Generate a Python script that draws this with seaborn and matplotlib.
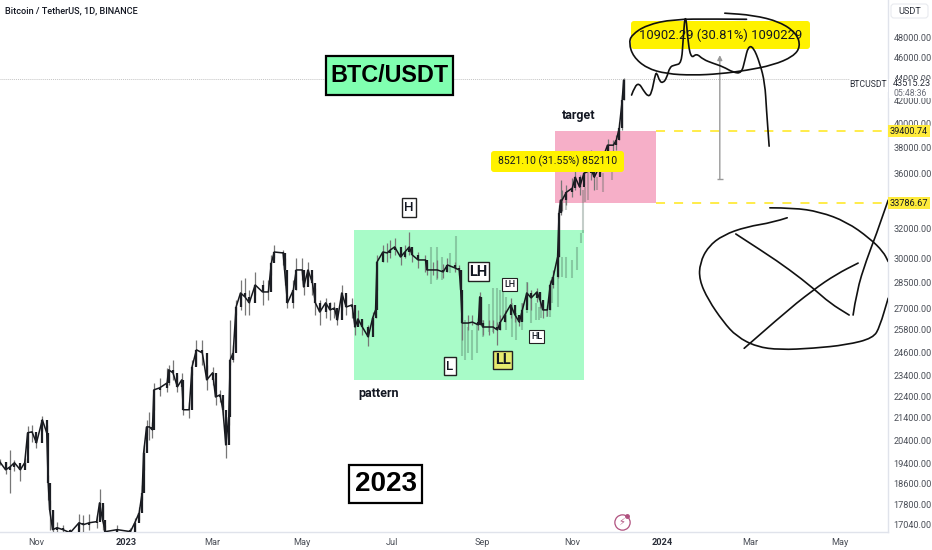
import pandas as pd
import matplotlib
matplotlib.use("Agg")
import matplotlib.pyplot as plt
from matplotlib.patches import FancyBboxPatch, PathPatch, Rectangle
from matplotlib.path import Path
from matplotlib.ticker import NullFormatter
from matplotlib.transforms import IdentityTransform
import seaborn as sns

# candles, x is days since 2023-01-01
candle_day = [-86, -82, -79, -76, -72, -69, -67, -64, -61, -57, -54, -53, -52, -50, -47, -43, -38, -32, -29, -25,
              -20, -18, -16, -14, -6, 3, 6, 9, 11, 12, 14, 16, 18, 19, 23, 28, 29, 32, 35, 38,
              39, 43, 45, 48, 52, 55, 59, 61, 64, 66, 68, 70, 71, 73, 75, 78, 81, 84, 88, 93,
              97, 99, 101, 107, 108, 110, 114, 116, 120, 121, 124, 127, 129, 132, 136, 139, 142, 144, 147, 150,
              154, 156, 158, 161, 165, 168, 170, 171, 175, 178, 180, 183, 187, 190, 193, 195, 199, 204, 205, 209,
              212, 216, 219, 224, 227, 228, 229, 233, 236, 240, 241, 242, 243, 247, 250, 253, 255, 258, 262, 265,
              268, 270, 273, 276, 280, 282, 284, 287, 289, 291, 294, 295, 296, 297, 300, 304, 306, 309, 312, 317,
              319, 323, 328, 332, 334, 336, 338, 339]
candle_close = [19480, 19150, 19270, 19440, 19150, 19440, 20720, 20760, 20280, 21300, 20720, 18630, 17590, 16860, 16930, 16860, 16750, 17110, 17040, 17110,
                17150, 17850, 17220, 16790, 16860, 16790, 17110, 17480, 18240, 19850, 20980, 20980, 20850, 22700, 22800, 23040, 23690, 23540, 22850, 23190,
                21760, 21760, 23840, 24720, 24560, 23190, 23540, 22360, 22460, 21760, 20190, 21440, 24200, 24560, 27080, 27900, 27670, 27320, 28380, 27960,
                27960, 29740, 30440, 30380, 29300, 27320, 28080, 29300, 29300, 28260, 29300, 28500, 27320, 26790, 27320, 26910, 27020, 26340, 27900, 27080,
                27200, 25950, 26400, 25950, 25410, 26450, 26910, 29800, 30440, 30380, 30570, 30770, 30120, 30440, 30770, 30250, 29930, 29930, 29300, 29300,
                29300, 29180, 29610, 29430, 29300, 28080, 26170, 26170, 26220, 26070, 27670, 26170, 25950, 25950, 25950, 25790, 26220, 26620, 27200, 26620,
                26220, 26910, 27900, 27610, 27960, 27490, 26910, 26910, 28380, 28860, 30120, 33070, 33990, 33990, 34570, 34870, 35690, 34950, 36000, 36230,
                35690, 36620, 38210, 38210, 38620, 39620, 42060, 43890]
candle_high = [19600, 19480, 19980, 19560, 19350, 19640, 21020, 21060, 20590, 21490, 21060, 18950, 17970, 17590, 17150, 17040, 16900, 17440, 17400, 17440,
               17400, 18390, 17780, 17040, 17040, 16930, 17290, 17700, 18550, 20190, 21300, 21660, 21210, 23040, 23290, 23790, 23940, 24200, 23440, 23540,
               21990, 22120, 24200, 25250, 25250, 23940, 23840, 22600, 22700, 21990, 20630, 22220, 26340, 24980, 27490, 28680, 28800, 28080, 29180, 28680,
               28680, 30250, 30900, 30570, 30060, 27780, 28680, 30060, 30060, 28990, 29800, 28990, 28200, 27490, 27610, 27370, 27370, 26790, 28380, 27780,
               27610, 26450, 26910, 26340, 26070, 26790, 27320, 30250, 30900, 31010, 31220, 31360, 30570, 30900, 31750, 30570, 30440, 30250, 29800, 29800,
               29930, 29670, 30060, 29800, 29610, 29300, 27490, 26620, 26620, 26450, 27960, 27670, 26340, 26340, 26340, 26220, 26620, 26910, 27610, 27200,
               26620, 27320, 28560, 28080, 28200, 27960, 27490, 27200, 28680, 29300, 30570, 33640, 35470, 34720, 35090, 35620, 36620, 35850, 37010, 37810,
               36620, 37640, 38700, 38620, 39030, 40130, 42510, 44070]
candle_low = [19350, 18990, 18240, 19110, 18710, 19310, 20070, 20320, 20070, 20810, 20540, 17970, 16860, 16680, 16750, 16680, 16610, 16860, 16790, 16860,
              16930, 17590, 16860, 16500, 16680, 16650, 16790, 17220, 17970, 19150, 20630, 20410, 20500, 21760, 22410, 22600, 22940, 23190, 22600, 22700,
              21530, 21390, 23440, 23940, 23940, 22700, 22940, 21990, 22120, 21530, 19640, 21060, 23940, 24100, 26620, 26910, 26620, 26620, 27780, 27200,
              27490, 28990, 30060, 29610, 28380, 27020, 27020, 28080, 28680, 27780, 28560, 27780, 26620, 26040, 26450, 26340, 26450, 26040, 26910, 26620,
              26450, 25520, 26070, 25520, 24930, 26070, 26450, 28080, 29800, 29800, 30060, 30250, 29610, 30060, 30250, 29800, 29430, 29180, 28990, 28990,
              28800, 28800, 29180, 29180, 28990, 27490, 25250, 25790, 26040, 25790, 26070, 26040, 25520, 25520, 25630, 24980, 25790, 26220, 26450, 26220,
              26000, 26340, 27200, 26910, 27370, 27020, 26450, 26560, 26910, 28200, 28800, 30120, 32930, 33210, 33640, 34200, 34720, 34360, 35090, 35470,
              34720, 35850, 37010, 36150, 37810, 38620, 39450, 42060]

# faded projection bars
ghost_day = [208, 212, 215, 221, 225, 229, 231, 233, 236, 239, 243, 247, 250, 253, 255, 257, 259, 263, 266, 270,
             273, 276, 279, 281, 283, 287, 289, 290, 294, 297, 300, 304, 307, 310, 311, 300, 313, 315, 321, 325, 331]
ghost_high = [30770, 30770, 30120, 30380, 31500, 26450, 26340, 25950, 25790, 26170, 26340, 27260, 28200, 28200, 28080, 28080, 27670, 27320, 26730, 27320,
              28560, 27900, 27320, 27080, 27080, 26910, 27320, 28860, 30380, 30120, 30120, 29930, 30770, 31680, 34720, 33990, 34950, 36000, 35690, 36000, 37010]
ghost_low = [28440, 28680, 28680, 29120, 29300, 24410, 24200, 24560, 24200, 24560, 25410, 25680, 25680, 25950, 26170, 26510, 25790, 25410, 25250, 25790,
             26730, 26170, 26340, 26340, 26450, 26510, 26510, 27320, 27080, 28860, 28800, 28800, 29300, 31010, 31680, 33280, 33850, 33990, 34720, 34570, 35470]

# hand drawn strokes, day then price
wave_day = [344.4, 346.6, 349.6, 352.3, 355.7, 358, 360.2, 361.4, 363.6, 365.9, 368.2, 370.5, 373.9, 378.4, 379.5, 381.1, 383, 385.2, 388.6, 393.1, 399.9, 406.8, 413.6, 419.3, 421.6, 423.8, 427.2, 431.8, 435.2, 436.3, 438.1]
wave_price = [42510, 43330, 43580, 42960, 42360, 42660, 44200, 44670, 43730, 43640, 44050, 45150, 45310, 45480, 47800, 50900, 47260, 45960, 46450, 45860, 45480, 45150, 44610, 44520, 45800, 47120, 47120, 45480, 43600, 41170, 38130]
ring_day = [422.7, 399.9, 372.7, 354.6, 344.4, 342.6, 345.5, 354.6, 368.2, 386.3, 404.5, 422.7, 440.8, 454.4, 459.5, 456.7, 445.4, 427.2, 407.9]
ring_price = [49950, 49980, 49950, 49340, 48310, 47460, 46130, 45010, 44470, 44340, 44470, 44800, 45310, 46130, 47120, 48480, 49680, 50390, 50600]
loop_left_day = [450.4, 440.9, 422.7, 406.8, 396.6, 390.9, 390.5, 396.6, 406.8, 415.9, 429.5, 445.4, 468.1, 490.8, 509, 513.5, 519.2]
loop_left_price = [32740, 32420, 32120, 31560, 30790, 29730, 28680, 27490, 26240, 25430, 24880, 24720, 24800, 24980, 25340, 25970, 27590]
loop_top_day = [438.6, 454.5, 472.6, 490.8, 506.7, 515.8, 519.2]
loop_top_price = [33440, 33440, 33160, 32460, 31330, 30460, 29830]
cross_a_day = [415.4, 434.1, 452.2, 468.1, 479.5, 492.6]
cross_a_price = [31630, 30460, 29300, 28180, 27300, 26620]
cross_b_day = [421.1, 445.4, 468.1, 484, 498.7]
cross_b_price = [24800, 26510, 28080, 29040, 29730]
rise_day = [495.3, 497.6, 504.4, 511.2, 519.2]
rise_price = [26620, 27960, 29930, 31620, 33990]

strokes = [(wave_day, wave_price), (ring_day, ring_price), (loop_left_day, loop_left_price),
           (loop_top_day, loop_top_price), (cross_a_day, cross_a_price), (cross_b_day, cross_b_price),
           (rise_day, rise_price)]

# zones and levels
pattern_days = [155.3, 311.9]
pattern_low, pattern_high = 23190, 31890
target_days = [292.1, 360.9]
target_low, target_high = 33786.67, 39400.74
last_price_line = 43950
arrow_day, arrow_low, arrow_high = 404.5, 35540, 46280

# axis labels
price_ticks = [48000, 46000, 44000, 42000, 40000, 38000, 36000, 32000, 30000, 28500, 27000, 25800, 24600, 23400,
               22400, 21400, 20400, 19400, 18600, 17800, 17040]
date_ticks = ["2022-11-01", "2023-01-01", "2023-03-01", "2023-05-01", "2023-07-01", "2023-09-01", "2023-11-01",
              "2024-01-01", "2024-03-01", "2024-05-01"]
date_labels = ["Nov", "2023", "Mar", "May", "Jul", "Sep", "Nov", "2024", "Mar", "May"]

W, H = 932, 550
sns.set_theme(style="white")
plt.rcParams["font.family"] = ["Roboto", "DejaVu Sans"]

fig = plt.figure(figsize=(W / 100, H / 100), dpi=100)
ax = fig.add_axes([0, 18 / H, 888 / W, 532 / H])
ax.set_yscale("log")
ax.set_xlim(-85.83, 519.07)
ax.set_ylim(16776, 52040)

ax.fill_between(pattern_days, pattern_low, pattern_high, color="#A8FBC8", lw=0, zorder=1)
ax.fill_between(target_days, target_low, target_high, color="#F6AFC8", lw=0, zorder=1)
ax.hlines([target_low, target_high], target_days[1], 519, color="#FFEB3B", lw=1.3,
          linestyles=(0, (5, 5)), zorder=1)
ax.axhline(last_price_line, color="#c4c4c4", lw=0.7, ls=(0, (1, 1)), zorder=1)

ax.vlines(ghost_day, ghost_low, ghost_high, color="#3d5a4c", alpha=0.3, lw=1.5, zorder=2)
ax.vlines(candle_day, candle_low, candle_high, color="#777777", lw=0.9, zorder=3)
sns.lineplot(x=candle_day, y=candle_close, color="#16181d", lw=1.1, estimator=None, sort=False, ax=ax, zorder=4)
ax.vlines(candle_day[1:], candle_close[:-1], candle_close[1:], color="#1c1e24", lw=1.6, zorder=4)

ax.annotate("", xy=(arrow_day, arrow_high), xytext=(arrow_day, arrow_low),
            arrowprops=dict(arrowstyle="-|>", color="#9a9a9a", lw=1, shrinkA=0, shrinkB=0, mutation_scale=7), zorder=5)
ax.plot([arrow_day], [arrow_low], marker="_", ms=5, color="#9a9a9a", zorder=5)

ax.yaxis.tick_right()
ax.set_yticks(price_ticks)
ax.set_yticklabels([f"{p}.00" for p in price_ticks], fontsize=6.6, color="#4a4e57")
ax.yaxis.set_minor_formatter(NullFormatter())
ax.yaxis.set_minor_locator(plt.NullLocator())
base = pd.Timestamp("2023-01-01")
ax.set_xticks([(pd.Timestamp(d) - base).days for d in date_ticks])
ax.set_xticklabels(date_labels, fontsize=6.6, color="#4a4e57")
for tick in ax.get_xticklabels():
    if tick.get_text() in ("2023", "2024"):
        tick.set_fontweight("bold")
        tick.set_color("#2a2e39")
ax.tick_params(axis="both", length=0, pad=4)
sns.despine(ax=ax, top=True, left=True, right=False, bottom=False)
for side in ("right", "bottom"):
    ax.spines[side].set_color("#e0e3eb")
    ax.spines[side].set_linewidth(1)


def note(x, y, text, size=8, weight="normal", color="#131722", family=None, ha="center"):
    # overlay text placed in figure pixels
    kw = {"family": family} if family else {}
    fig.text(x / W, 1 - y / H, text, fontsize=size, fontweight=weight, color=color, ha=ha, va="center",
             zorder=8, **kw)


def plate(x0, y0, x1, y1, face="white", edge="#222222", lw=1.0, round_px=0):
    # box behind a note, corners given in figure pixels
    style = f"round,pad=0,rounding_size={round_px}" if round_px else "square,pad=0"
    fig.add_artist(FancyBboxPatch((x0, H - y1), x1 - x0, y1 - y0, boxstyle=style, transform=IdentityTransform(),
                                  fc=face, ec=edge, lw=lw, zorder=7.5))


def boxed(x0, y0, x1, y1, text, size, weight="bold", face="white", edge="#222222", lw=1.0, family=None, color="#131722"):
    plate(x0, y0, x1, y1, face, edge, lw)
    note((x0 + x1) / 2, (y0 + y1) / 2, text, size, weight, color, family)


def smooth_stroke(target, day, price):
    # control polygon from the read values, drawn as a curve the way a pen would go
    pts = list(zip(day, price))
    verts = [pts[0]]
    codes = [Path.MOVETO]
    for i in range(1, len(pts) - 1):
        mid = ((pts[i][0] + pts[i + 1][0]) / 2, (pts[i][1] + pts[i + 1][1]) / 2)
        verts += [pts[i], mid]
        codes += [Path.CURVE3, Path.CURVE3]
    verts.append(pts[-1])
    codes.append(Path.LINETO)
    target.add_patch(PathPatch(Path(verts, codes), fc="none", ec="#111111", lw=1.2, capstyle="round"))


plate(491, 151, 624, 172, "#FFF200", "none", 0, round_px=3)
note(557.5, 161.5, "8521.10 (31.55%) 852110", 7.5)
plate(631, 21, 810, 49, "#FFF200", "none", 0, round_px=3)
note(720.5, 35, "10902.29 (30.81%) 1090229", 9.4)

# the strokes sit on top of the yellow labels, so they go in an overlay axes on the same scales
top = fig.add_axes(ax.get_position(), sharex=ax, sharey=ax, zorder=9)
top.patch.set_alpha(0)
top.axis("off")
for day, price in strokes:
    smooth_stroke(top, day, price)
top.plot([337.9], [17150], marker="o", ms=11, mfc="none", mec="#b0517f", mew=0.9)
top.plot([341.5], [17350], marker="o", ms=2.5, color="#b0517f")
top.text(337.9, 17150, "\u26a1", fontsize=7, color="#b0517f", ha="center", va="center", family="DejaVu Sans")

note(5, 10.5, "Bitcoin / TetherUS, 1D, BINANCE", 6.6, weight="medium", ha="left")
boxed(326, 56, 453, 95, "BTC/USDT", 16.8, face="#80FFB0", edge="black", lw=1.6, family="Liberation Sans", color="black")
boxed(349, 465, 422, 503, "2023", 20, edge="black", lw=1.6, family="Liberation Sans", color="black")
boxed(402, 198, 416, 217, "H", 9.5, weight="medium")
boxed(468, 262, 489, 281, "LH", 10.5)
boxed(502, 278, 517, 291, "LH", 6.5, weight="medium", lw=0.8)
boxed(529, 330, 544, 343, "HL", 6.5, weight="medium", lw=0.8)
boxed(444, 357, 456, 375, "L", 9.5, weight="medium")
boxed(493, 351, 512, 369, "LL", 10.5, face="#E6EA6F")
note(379, 393, "pattern", 9, weight="bold")
note(579, 116, "target", 9, weight="bold")

plate(891, 4, 928, 18, "white", "#e8eaef", 0.8, round_px=3)
note(909.5, 11, "USDT", 6.6, color="#2a2e39")
fig.add_artist(Rectangle((889 / W, 1 - 98 / H), 43 / W, 19 / H, transform=fig.transFigure, fc="white", ec="none", zorder=7))
fig.add_artist(Rectangle((850 / W, 1 - 92 / H), 38 / W, 13 / H, transform=fig.transFigure, fc="white", ec="none", zorder=7))
note(868, 84.5, "BTCUSDT", 6.2, color="#2a2e39")
note(893, 84, "43515.23", 6.6, color="#2a2e39", ha="left")
note(893, 93, "05:48:36", 6.2, color="#6a6d78", ha="left")
plate(888, 125, 930, 137, "#FFEB3B", "none", 0)
note(909, 131, "39400.74", 6.6)
plate(888, 197, 930, 209, "#FFEB3B", "none", 0)
note(909, 203, "33786.67", 6.6)

fig.savefig("out.png", dpi=100)
